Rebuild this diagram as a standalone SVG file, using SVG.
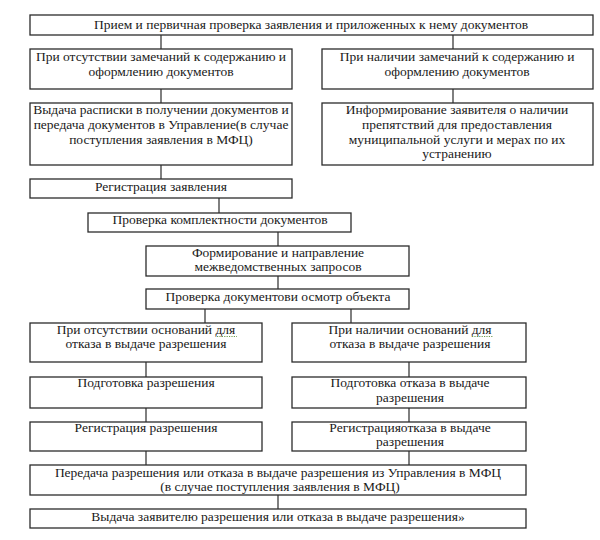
<svg xmlns="http://www.w3.org/2000/svg" width="600" height="540" viewBox="0 0 600 540">
<style>
.b{fill:#fff;stroke:#2b2b2b;stroke-width:1.3}
.t{font-family:"Liberation Serif","Times New Roman","DejaVu Serif",serif;font-size:13.5px;fill:#1a1a1a;text-anchor:middle}
.c{stroke:#2b2b2b;stroke-width:1.2;fill:none}
.sp{stroke:#6f9a4f;stroke-width:1.2;stroke-dasharray:1.2 1.2;fill:none}
</style>
<rect width="600" height="540" fill="#fff"/>
<g id="connectors">
<line class="c" x1="161" y1="35" x2="161" y2="49"/>
<line class="c" x1="453" y1="35" x2="453" y2="49"/>
<line class="c" x1="161" y1="89" x2="161" y2="103"/>
<line class="c" x1="453" y1="89" x2="453" y2="103"/>
<line class="c" x1="161" y1="165" x2="161" y2="179"/>
<line class="c" x1="219" y1="198" x2="219" y2="213"/>
<line class="c" x1="278" y1="232" x2="278" y2="246"/>
<line class="c" x1="278" y1="276" x2="278" y2="289"/>
<line class="c" x1="205" y1="309" x2="205" y2="323"/>
<line class="c" x1="351" y1="309" x2="351" y2="323"/>
<line class="c" x1="146" y1="362" x2="146" y2="377"/>
<line class="c" x1="409" y1="362" x2="409" y2="377"/>
<line class="c" x1="146" y1="408" x2="146" y2="422"/>
<line class="c" x1="409" y1="408" x2="409" y2="422"/>
<line class="c" x1="146" y1="451" x2="146" y2="465"/>
<line class="c" x1="409" y1="451" x2="409" y2="465"/>
<line class="c" x1="278" y1="495" x2="278" y2="509"/>
</g>
<g id="n1"><rect class="b" x="30" y="15" width="563" height="20"/>
<text class="t" x="311" y="28.5">Прием и первичная проверка заявления и приложенных к нему документов</text></g>
<g id="n2"><rect class="b" x="30" y="49" width="262" height="40"/>
<text class="t" x="161" y="61">При отсутствии замечаний к содержанию и</text>
<text class="t" x="161" y="75.5">оформлению документов</text></g>
<g id="n3"><rect class="b" x="322" y="49" width="271" height="40"/>
<text class="t" x="457" y="61">При наличии замечаний к содержанию и</text>
<text class="t" x="457" y="75.5">оформлению документов</text></g>
<g id="n4"><rect class="b" x="30" y="103" width="262" height="62"/>
<text class="t" x="161" y="114">Выдача расписки в получении документов и</text>
<text class="t" x="161" y="129">передача документов в Управление(в случае</text>
<text class="t" x="161" y="144">поступления заявления в МФЦ)</text></g>
<g id="n5"><rect class="b" x="322" y="103" width="271" height="62"/>
<text class="t" x="457" y="114">Информирование заявителя о наличии</text>
<text class="t" x="457" y="129">препятствий для предоставления</text>
<text class="t" x="457" y="143.5">муниципальной услуги и мерах по их</text>
<text class="t" x="457" y="158">устранению</text></g>
<g id="n6"><rect class="b" x="30" y="179" width="262" height="19"/>
<text class="t" x="161" y="191">Регистрация заявления</text></g>
<g id="n7"><rect class="b" x="88" y="213" width="263" height="19"/>
<text class="t" x="220" y="224">Проверка комплектности документов</text></g>
<g id="n8"><rect class="b" x="146" y="246" width="263" height="30"/>
<text class="t" x="278" y="257">Формирование и направление</text>
<text class="t" x="278" y="270.5">межведомственных запросов</text></g>
<g id="n9"><rect class="b" x="146" y="289" width="263" height="20"/>
<text class="t" x="278" y="301">Проверка документови осмотр объекта</text></g>
<g id="n10"><rect class="b" x="30" y="323" width="232" height="39"/>
<text class="t" x="146" y="334">При отсутствии оснований для</text>
<text class="t" x="146" y="348">отказа в выдаче разрешения</text>
<path class="sp" d="M217 336.5H237"/></g>
<g id="n11"><rect class="b" x="292" y="323" width="234" height="39"/>
<text class="t" x="410" y="334">При наличии оснований для</text>
<text class="t" x="410" y="348">отказа в выдаче разрешения</text>
<path class="sp" d="M472 336.5H493"/></g>
<g id="n12"><rect class="b" x="30" y="377" width="232" height="31"/>
<text class="t" x="146" y="387">Подготовка разрешения</text></g>
<g id="n13"><rect class="b" x="292" y="377" width="234" height="31"/>
<text class="t" x="410" y="387">Подготовка отказа в выдаче</text>
<text class="t" x="410" y="402">разрешения</text></g>
<g id="n14"><rect class="b" x="30" y="422" width="232" height="29"/>
<text class="t" x="146" y="432">Регистрация разрешения</text></g>
<g id="n15"><rect class="b" x="292" y="422" width="234" height="29"/>
<text class="t" x="410" y="432">Регистрацияотказа в выдаче</text>
<text class="t" x="410" y="446">разрешения</text></g>
<g id="n16"><rect class="b" x="30" y="465" width="496" height="30"/>
<text class="t" x="278" y="477">Передача разрешения или отказа в выдаче разрешения из Управления в МФЦ</text>
<text class="t" x="280" y="490.5">(в случае поступления заявления в МФЦ)</text></g>
<g id="n17"><rect class="b" x="30" y="509" width="496" height="19"/>
<text class="t" x="278" y="520.5">Выдача заявителю разрешения или отказа в выдаче разрешения»</text></g>
</svg>
